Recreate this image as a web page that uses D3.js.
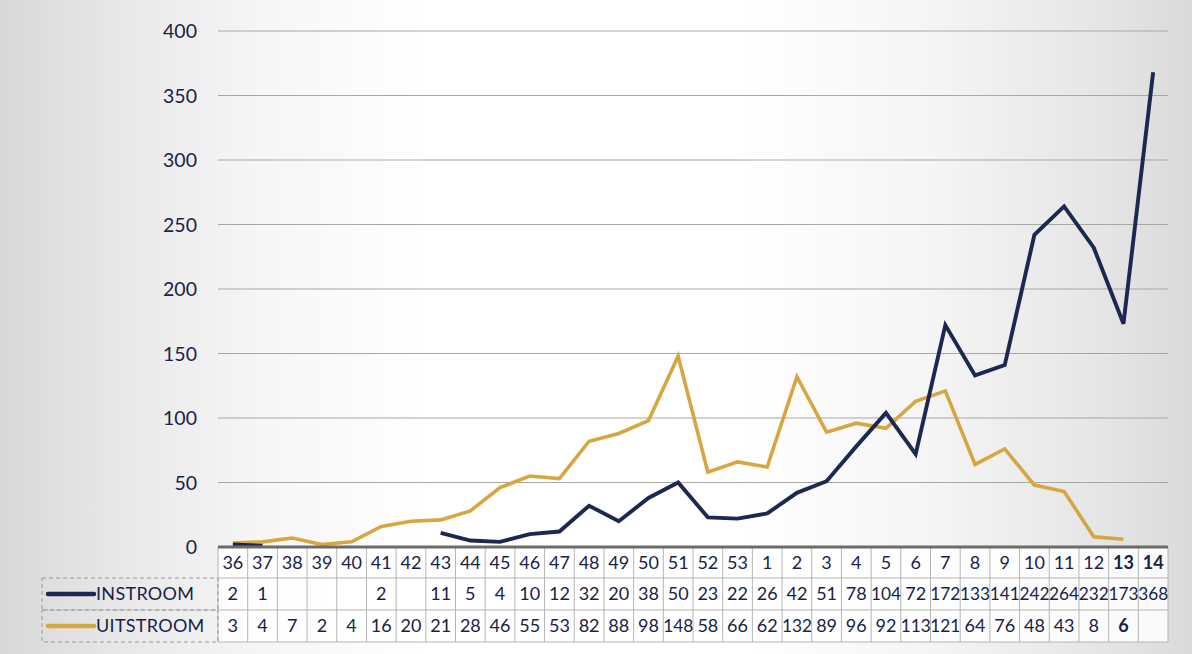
<!DOCTYPE html>
<html><head><meta charset="utf-8">
<script src="https://cdn.jsdelivr.net/npm/d3@7"></script>
<style>
html,body{margin:0;padding:0;}
body{width:1192px;height:654px;overflow:hidden;
background:linear-gradient(90deg,#d8d8d8 0%,#e8e8e8 10%,#f6f6f6 22%,#ffffff 36%,#ffffff 62%,#f5f5f5 78%,#e6e6e6 92%,#dadada 100%);}
svg{display:block;font-family:Lato,"Open Sans",sans-serif;}
</style></head><body>
<svg id="c" width="1192" height="654"></svg>
<script>
const weeks = ["36","37","38","39","40","41","42","43","44","45","46","47","48","49","50","51","52","53","1","2","3","4","5","6","7","8","9","10","11","12","13","14"];
const instroom = [2,1,null,null,null,2,null,11,5,4,10,12,32,20,38,50,23,22,26,42,51,78,104,72,172,133,141,242,264,232,173,368];
const uitstroom = [3,4,7,2,4,16,20,21,28,46,55,53,82,88,98,148,58,66,62,132,89,96,92,113,121,64,76,48,43,8,6,null];
const yTicks = [0,50,100,150,200,250,300,350,400];
const seriesNames = ["INSTROOM","UITSTROOM"];

const navy = "#1d2850", gold = "#d6a640", textCol = "#1a2246";
const svg = d3.select("#c");
const x = d3.scaleBand().domain(weeks).range([218,1168]);
const y = d3.scaleLinear().domain([0,400]).range([547,31]);

// gridlines
svg.append("g").selectAll("line").data(yTicks.filter(d=>d>0)).join("line")
  .attr("x1",218).attr("x2",1168).attr("y1",d=>y(d)).attr("y2",d=>y(d))
  .attr("stroke","#a8a8a8").attr("stroke-width",1.2);

// y axis labels
const ya = svg.append("g").attr("transform","translate(197,0)")
  .call(d3.axisLeft(y).tickValues(yTicks).tickSize(0).tickPadding(0));
ya.select(".domain").remove();
ya.selectAll("text").attr("font-size",19.5).attr("fill",textCol).attr("font-family","Lato,'Open Sans',sans-serif").attr("dy","0.34em");

// lines
const cx = d => x(d) + x.bandwidth()/2;
const line = d3.line().defined(d=>d.v!=null).x(d=>cx(d.w)).y(d=>y(d.v));
svg.append("path").datum(weeks.map((w,i)=>({w,v:uitstroom[i]})))
  .attr("d",line).attr("fill","none").attr("stroke",gold).attr("stroke-width",3.6).attr("stroke-linejoin","miter");
svg.append("path").datum(weeks.map((w,i)=>({w,v:instroom[i]})))
  .attr("d",line).attr("fill","none").attr("stroke",navy).attr("stroke-width",3.9).attr("stroke-linejoin","miter");

// table
const tTop = 547, rowH = [31,32,32];
const rowY = [tTop, tTop+rowH[0], tTop+rowH[0]+rowH[1], tTop+rowH[0]+rowH[1]+rowH[2]];
const tbl = svg.append("g");
tbl.append("rect").attr("x",218).attr("y",tTop+1).attr("width",950).attr("height",rowY[3]-tTop-1).attr("fill","#ffffff").attr("fill-opacity",0.85);
tbl.selectAll("line.v").data(weeks.concat(["end"])).join("line")
  .attr("x1",(d,i)=>218+i*x.bandwidth()).attr("x2",(d,i)=>218+i*x.bandwidth())
  .attr("y1",tTop).attr("y2",rowY[3]).attr("stroke","#b5b5b5").attr("stroke-width",1);
tbl.selectAll("line.h").data([rowY[1],rowY[2],rowY[3]]).join("line")
  .attr("x1",218).attr("x2",1168).attr("y1",d=>d).attr("y2",d=>d).attr("stroke","#b5b5b5").attr("stroke-width",1);
[1,2].forEach(r=>{
  tbl.append("rect").attr("x",42).attr("y",rowY[r]).attr("width",176).attr("height",rowH[r])
    .attr("fill","none").attr("stroke","#9a9a9a").attr("stroke-width",1).attr("stroke-dasharray","4,3");
});
svg.append("line").attr("x1",218).attr("x2",1168).attr("y1",tTop).attr("y2",tTop).attr("stroke","#6b6b6b").attr("stroke-width",3);

const boldCols = new Set(["13","14"]);
tbl.selectAll("text.h").data(weeks).join("text")
  .attr("x",d=>cx(d)).attr("y",(rowY[0]+rowY[1])/2).attr("dy","0.36em").attr("text-anchor","middle")
  .attr("font-size",18).attr("fill",textCol).attr("font-weight",d=>boldCols.has(d)?"bold":"normal").text(d=>d);
const rows = [instroom, uitstroom];
rows.forEach((arr,r)=>{
  const t = tbl.selectAll("text.r"+r).data(weeks.map((w,i)=>({w,v:arr[i]})).filter(d=>d.v!=null)).join("text")
    .attr("x",d=>cx(d.w)).attr("y",(rowY[r+1]+rowY[r+2])/2).attr("dy","0.36em").attr("text-anchor","middle")
    .attr("font-size",18)
    .attr("fill",textCol).attr("font-weight",d=>(r===1&&boldCols.has(d.w))?"bold":"normal").text(d=>d.v);
  t.filter(d=>String(d.v).length>=3).attr("textLength",30).attr("lengthAdjust","spacingAndGlyphs");
  const ly = (rowY[r+1]+rowY[r+2])/2;
  tbl.append("line").attr("x1",48).attr("x2",94).attr("y1",ly).attr("y2",ly)
    .attr("stroke",r===0?navy:gold).attr("stroke-width",4.5).attr("stroke-linecap","round");
  tbl.append("text").attr("x",96).attr("y",ly).attr("dy","0.36em").attr("font-size",18).attr("letter-spacing",0.3)
    .attr("fill",textCol).text(seriesNames[r]);
});
</script>
</body></html>
